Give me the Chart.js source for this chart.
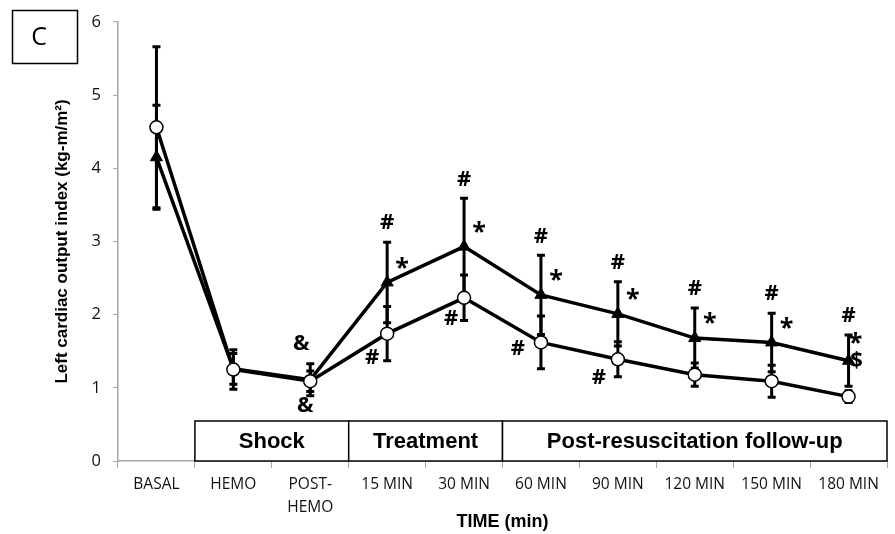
<!DOCTYPE html>
<html lang="en">
<head>
  <meta charset="utf-8">
  <title>Left cardiac output index</title>
  <script src="https://cdn.jsdelivr.net/npm/chart.js@4.4.0/dist/chart.umd.min.js"></script>
  <style>
    html, body { margin: 0; padding: 0; background: #fff; }
    canvas { display: block; }
  </style>
</head>
<body>
  <canvas id="myChart" width="895" height="534"></canvas>

  <script>
    // data
    const categories = ['BASAL', 'HEMO', ['POST-', 'HEMO'], '15 MIN', '30 MIN', '60 MIN', '90 MIN', '120 MIN', '150 MIN', '180 MIN'];
    const circleMean = [4.56, 1.25, 1.09, 1.74, 2.23, 1.62, 1.39, 1.18, 1.09, 0.88];
    const circleSd = [1.10, 0.27, 0.14, 0.37, 0.31, 0.36, 0.24, 0.16, 0.22, 0.08];
    const triangleMean = [4.15, 1.26, 1.11, 2.44, 2.93, 2.27, 2.01, 1.68, 1.62, 1.37];
    const triangleSd = [0.71, 0.21, 0.22, 0.55, 0.66, 0.54, 0.44, 0.41, 0.40, 0.35];
    const yTicks = [0, 1, 2, 3, 4, 5, 6];

    // phase bands under the curves (category index ranges)
    const phaseNames = ['Shock', 'Treatment', 'Post-resuscitation follow-up'];
    const phaseFrom = [1, 3, 5];
    const phaseTo = [2, 4, 9];

    // significance marks (category indexes)
    const hashTriangle = [3, 4, 5, 6, 7, 8, 9];
    const starTriangle = [3, 4, 5, 6, 7, 8, 9];
    const hashCircle = [3, 4, 5, 6];
    const ampersand = [2];
    const dollar = [9];

    const BLACK = '#000';
    const AXIS = '#a6a6a6';

    const errorBars = {
      id: 'errorBars',
      beforeDatasetsDraw(chart) {
        const ctx = chart.ctx;
        const x = chart.scales.x, y = chart.scales.y;
        const sets = [[circleMean, circleSd], [triangleMean, triangleSd]];
        ctx.save();
        ctx.strokeStyle = BLACK;
        ctx.lineWidth = 3;
        sets.forEach(([mean, sd]) => {
          mean.forEach((m, i) => {
            const px = x.getPixelForValue(i);
            const top = y.getPixelForValue(m + sd[i]);
            const bot = y.getPixelForValue(m - sd[i]);
            ctx.beginPath();
            ctx.moveTo(px, top); ctx.lineTo(px, bot);
            ctx.moveTo(px - 4, top); ctx.lineTo(px + 4, top);
            ctx.moveTo(px - 4, bot); ctx.lineTo(px + 4, bot);
            ctx.stroke();
          });
        });
        ctx.restore();
      }
    };

    const marks = {
      id: 'marks',
      afterDatasetsDraw(chart) {
        const ctx = chart.ctx;
        const x = chart.scales.x, y = chart.scales.y;
        const circleHashOffset = { 3: [-15, 24], 4: [-13, 21], 5: [-23, 6], 6: [-19, 18] };
        ctx.save();
        ctx.fillStyle = BLACK;
        ctx.textAlign = 'center';
        ctx.textBaseline = 'middle';
        ctx.font = 'bold 22px "Open Sans"';
        hashTriangle.forEach(i => {
          ctx.fillText('#', x.getPixelForValue(i), y.getPixelForValue(triangleMean[i] + triangleSd[i]) - 19);
        });
        hashCircle.forEach(i => {
          const o = circleHashOffset[i];
          ctx.fillText('#', x.getPixelForValue(i) + o[0], y.getPixelForValue(circleMean[i]) + o[1]);
        });
        ampersand.forEach(i => {
          const px = x.getPixelForValue(i), py = y.getPixelForValue(triangleMean[i]);
          ctx.fillText('&', px - 9, py - 36);
          ctx.fillText('&', px - 5, py + 26);
        });
        dollar.forEach(i => {
          ctx.fillText('$', x.getPixelForValue(i) + 8, y.getPixelForValue(triangleMean[i]));
        });
        ctx.font = 'bold 25px "Open Sans"';
        starTriangle.forEach(i => {
          const last = i === categories.length - 1;
          ctx.fillText('*', x.getPixelForValue(i) + (last ? 7 : 15), y.getPixelForValue(triangleMean[i]) + (last ? -17 : -14));
        });
        ctx.restore();
      }
    };

    const phaseBoxes = {
      id: 'phaseBoxes',
      afterDraw(chart) {
        const ctx = chart.ctx;
        const x = chart.scales.x;
        const half = (x.getPixelForValue(1) - x.getPixelForValue(0)) / 2;
        const bottom = chart.chartArea.bottom;
        const top = bottom - 40;
        ctx.save();
        ctx.lineWidth = 1.5;
        ctx.strokeStyle = BLACK;
        ctx.font = 'bold 22px "Liberation Sans"';
        ctx.textAlign = 'center';
        ctx.textBaseline = 'middle';
        phaseNames.forEach((name, k) => {
          const left = x.getPixelForValue(phaseFrom[k]) - half;
          const right = Math.min(x.getPixelForValue(phaseTo[k]) + half, chart.width - 2);
          ctx.fillStyle = '#fff';
          ctx.fillRect(left, top, right - left, bottom - top);
          ctx.strokeRect(left, top, right - left, bottom - top);
          ctx.fillStyle = BLACK;
          ctx.fillText(name, (left + right) / 2, (top + bottom) / 2 + 1);
        });
        // panel letter
        ctx.strokeRect(12.5, 10.5, 65, 53);
        ctx.font = '25px "Open Sans"';
        ctx.fillText('C', 39, 38);
        ctx.restore();
      }
    };

    const data = {
      labels: categories,
      datasets: [{
          label: 'Circle',
          data: circleMean,
          borderColor: BLACK,
          borderWidth: 3.5,
          pointStyle: 'circle',
          pointRadius: 6.5,
          pointBackgroundColor: '#fff',
          pointBorderColor: BLACK,
          pointBorderWidth: 1.5,
          tension: 0
        },
        {
          label: 'Triangle',
          data: triangleMean,
          borderColor: BLACK,
          borderWidth: 3.5,
          pointStyle: 'triangle',
          pointRadius: 7,
          pointBackgroundColor: BLACK,
          pointBorderColor: BLACK,
          pointBorderWidth: 1,
          tension: 0
        }
      ]
    };

    const config = {
      type: 'line',
      data: data,
      options: {
        responsive: false,
        animation: false,
        devicePixelRatio: 1,
        layout: { padding: { top: 20, right: 2, left: 0, bottom: 0 } },
        scales: {
          x: {
            offset: true,
            grid: { drawOnChartArea: false, offset: true, tickLength: 7, color: AXIS },
            border: { color: AXIS, width: 1.5 },
            ticks: {
              autoSkip: false,
              maxRotation: 0,
              padding: 5,
              color: '#111',
              font: { family: 'Open Sans', size: 15.5, lineHeight: 1.5 }
            },
            title: {
              display: true,
              text: 'TIME (min)',
              color: BLACK,
              font: { family: 'Liberation Sans', weight: 'bold', size: 18 },
              padding: { top: 0, bottom: 1 }
            },
            afterFit: s => { s.height = 73; }
          },
          y: {
            min: 0,
            max: 6,
            afterBuildTicks: s => { s.ticks = yTicks.map(v => ({ value: v })); },
            grid: { drawOnChartArea: false, tickLength: 5, color: AXIS },
            border: { color: AXIS, width: 1.5 },
            ticks: {
              padding: 12,
              color: '#111',
              font: { family: 'Open Sans', size: 16.5 }
            },
            title: {
              display: true,
              text: 'Left cardiac output index (kg-m/m²)',
              color: BLACK,
              font: { family: 'Liberation Sans', weight: 'bold', size: 17 },
              padding: { top: 52, bottom: 0 }
            },
            afterFit: s => { s.width = 118; }
          }
        },
        plugins: {
          legend: { display: false },
          tooltip: { enabled: false },
          title: { display: false }
        }
      },
      plugins: [errorBars, marks, phaseBoxes]
    };

    const myChart = new Chart(document.getElementById('myChart'), config);
  </script>
</body>
</html>
